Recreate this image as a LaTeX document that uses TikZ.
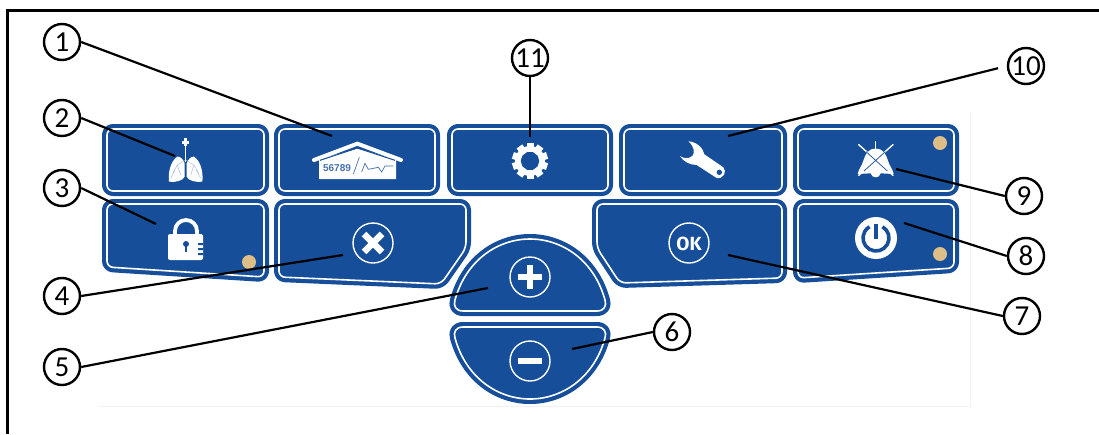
\documentclass[tikz,border=0pt]{standalone}
\usepackage{fontspec}
\setmainfont{Carlito}
\newfontfamily\labelfont{Liberation Sans}
\newfontfamily\okfont{Fira Sans}
\definecolor{panelblue}{RGB}{22,78,153}
\definecolor{dot}{RGB}{221,190,135}
\definecolor{panelgray}{RGB}{240,241,243}
\tikzset{
 num/.style={circle,draw=black,line width=2.4pt,fill=white,minimum size=36pt,inner sep=0pt,font=\fontsize{29}{29}\selectfont,text=black},
 lead/.style={draw=black,line width=2.2pt},
 btnouter/.style={draw=panelblue,fill=panelblue,line width=10pt,line join=round},
 btninner/.style={draw=white,line width=1.6pt,line join=round},
 icoring/.style={draw=white,line width=1.4pt},
 lampdot/.style={fill=dot,draw=none},
 corner/.style={rounded corners=6pt}
}
\newcommand{\btnshape}[1]{\draw[btnouter] #1; \draw[btninner] #1;}
\begin{document}
\begin{tikzpicture}[x=1pt,y=-1pt]
\useasboundingbox (0,0) rectangle (1099,434);
\fill[white] (0,0) rectangle (1099,434);
% frame
\draw[black,line width=3pt] (7.5,434) -- (7.5,10.5) -- (1099,10.5);
% faint panel
\draw[panelgray,line width=1pt] (98,406) -- (970,406) -- (970,112);
% rectangular buttons
\btnshape{[corner] (107,129) rectangle (264,191)}
\btnshape{[corner] (279,129) rectangle (435,191)}
\btnshape{[corner] (452,129) rectangle (608,191)}
\btnshape{[corner] (624,129) rectangle (782,191)}
\btnshape{[corner] (798,129) rectangle (954,191)}
% shaped buttons
\btnshape{[corner] (107,204) -- (264,204) -- (264,277) -- (107,267) -- cycle}
\btnshape{[corner] (279,204) -- (466,204) -- (466,248) -- (441,284) -- (279,277) -- cycle}
\btnshape{[corner] (597,204) -- (782,204) -- (782,278) -- (620,283) -- (597,248) -- cycle}
\btnshape{[corner] (798,204) -- (954,204) -- (954,268) -- (798,278) -- cycle}
% plus / minus
\btnshape{(463,311) .. controls (456,311) and (453,306) .. (455,300) .. controls (466,260) and (498,239) .. (530,239) .. controls (562,239) and (594,260) .. (605,300) .. controls (607,306) and (604,311) .. (597,311) -- cycle}
\btnshape{(463,327) .. controls (456,327) and (453,332) .. (455,338) .. controls (466,378) and (498,399) .. (530,399) .. controls (562,399) and (594,378) .. (605,338) .. controls (607,332) and (604,327) .. (597,327) -- cycle}
% lamps
\fill[lampdot] (249,262) circle (7);
\fill[lampdot] (940,143) circle (7);
\fill[lampdot] (940,254) circle (7);
% lungs
\begin{scope}[shift={(90,110)},scale=1/3]
 \fill[white] (262,140) .. controls (240,155) and (234,190) .. (237,215) .. controls (255,218) and (280,212) .. (284,200) -- (284,160) .. controls (280,148) and (270,138) .. (262,140) -- cycle;
 \fill[white] (312,140) .. controls (334,155) and (340,190) .. (337,215) .. controls (319,218) and (294,212) .. (290,200) -- (290,160) .. controls (294,148) and (304,138) .. (312,140) -- cycle;
 \draw[white,line width=1.6pt] (287,100) -- (287,155);
 \draw[white,line width=3pt] (276,97) -- (298,97);
 \draw[white,line width=3pt] (287,85) -- (287,108);
 \draw[panelblue!35!white,line width=.5pt] (287,150) -- (262,165) -- (248,190) (262,165) -- (272,195) (255,180) -- (242,205) (287,150) -- (312,165) -- (326,190) (312,165) -- (302,195) (319,180) -- (332,205);
\end{scope}
% house
\begin{scope}[shift={(90,110)},scale=1/3]
 \fill[white] (687,148) -- (802,116) -- (918,148) -- (918,207) -- (687,207) -- cycle;
 \draw[white,line width=4pt,line cap=round,line join=miter] (672,150) -- (802,101) -- (933,150);
 \draw[panelblue,line width=1pt] (690,151) -- (802,114) -- (915,151);
 \node[inner sep=0,text=panelblue!80!white,font=\labelfont\bfseries\fontsize{10}{10}\selectfont] (housetext) at (741,174) {56789};
 \draw[panelblue!80!white,line width=.7pt] (790,192) -- (808,142);
 \draw[panelblue!80!white,line width=.7pt] (815,186) -- (825,160) -- (835,178) -- (865,172) -- (875,186) -- (885,168) -- (910,168);
\end{scope}
% gear
\foreach \a in {0,36,...,324}{\fill[white,rotate around={\a:(530,161)}] (526.5,143) rectangle (533.5,152);}
\fill[white,even odd rule] (530,161) circle (15) (530,161) circle (10);
% wrench
\begin{scope}[shift={(440,110)},scale=1/3]
 \fill[white] (745,94) .. controls (770,95) and (790,115) .. (793,133) -- (850,172) .. controls (862,185) and (850,208) .. (830,204) -- (770,165) .. controls (750,165) and (730,155) .. (720,138) .. controls (730,145) and (745,148) .. (757,138) .. controls (766,128) and (762,108) .. (745,94) -- cycle;
 \fill[panelblue] (838,187) circle (8);
\end{scope}
% bell
\begin{scope}[shift={(780,110)},scale=1/3]
 \fill[white] (287,116) .. controls (262,116) and (256,135) .. (250,152) .. controls (246,168) and (236,176) .. (233,192) -- (272,190) .. controls (275,206) and (299,206) .. (302,190) -- (341,192) .. controls (338,176) and (328,168) .. (324,152) .. controls (318,135) and (312,116) .. (287,116) -- cycle;
 \draw[white,line width=1.6pt] (287,93) -- (287,116);
 \draw[white,line width=1.4pt] (235,103) -- (340,197) (340,103) -- (235,197);
 \draw[panelblue,line width=.7pt] (258,125) -- (322,183) (316,125) -- (252,183);
\end{scope}
% power
\fill[white] (876,238) circle (21);
\draw[panelblue,line width=3.6pt] (876,238) ++(-60:13) arc (-60:240:13);
\draw[panelblue,line width=3.6pt] (876,224) -- (876,239);
% lock
\draw[white,line width=3.8pt] (175,236) -- (175,231) arc (180:360:11) -- (197,236);
\fill[white,rounded corners=2pt] (168,234) rectangle (203,260);
\fill[panelblue] (186,244) circle (3);
\fill[panelblue] (184.8,245) rectangle (187.2,252);
\fill[panelblue] (198,243) rectangle (203,245) (198,248) rectangle (203,250) (198,253) rectangle (203,255);
% X
\draw[icoring] (373,243) circle (20);
\draw[white,line width=6.5pt] (364,234) -- (382,252) (382,234) -- (364,252);
% OK
\draw[icoring] (689,243) circle (20);
\node[inner sep=0,text=white,font=\okfont\bfseries\fontsize{19}{19}\selectfont] (oktext) at (689,243.5) {OK};
% plus
\draw[icoring] (530,277) circle (20);
\draw[white,line width=6pt] (518,277) -- (542,277) (530,265) -- (530,289);
% minus
\draw[icoring] (530,361) circle (20);
\draw[white,line width=5.5pt] (518,361) -- (542,361);
% numbered callouts
\node[num] (n1) at (62,42) {1};
\node[num] (n2) at (62,118) {2};
\node[num] (n3) at (62,188) {3};
\node[num] (n4) at (62,296) {4};
\node[num] (n5) at (62,367) {5};
\node[num] (n6) at (672,332) {6};
\node[num] (n7) at (1022,316) {7};
\node[num] (n8) at (1026,256) {8};
\node[num] (n9) at (1024,196) {9};
\node[num] (n10) at (1026,66) {10};
\node[num] (n11) at (530,58) {11};
\coordinate (e1) at (332,136);
\coordinate (e2) at (175,156);
\coordinate (e3) at (156,224);
\coordinate (e4) at (343,255);
\coordinate (e5) at (488,288);
\coordinate (e6) at (572,349);
\coordinate (e7) at (728,255);
\coordinate (e8) at (904,223);
\coordinate (e9) at (896,169);
\coordinate (e10) at (728,136);
\coordinate (e11) at (530,137);
\foreach \i in {1,...,5}{\draw[lead] (n\i.east) -- (e\i);}
\foreach \i in {6,...,9}{\draw[lead] (n\i.west) -- (e\i);}
\draw[lead,shorten <=9pt] (n10.west) -- (e10);
\draw[lead] (n11.south) -- (e11);
\end{tikzpicture}
\end{document}
